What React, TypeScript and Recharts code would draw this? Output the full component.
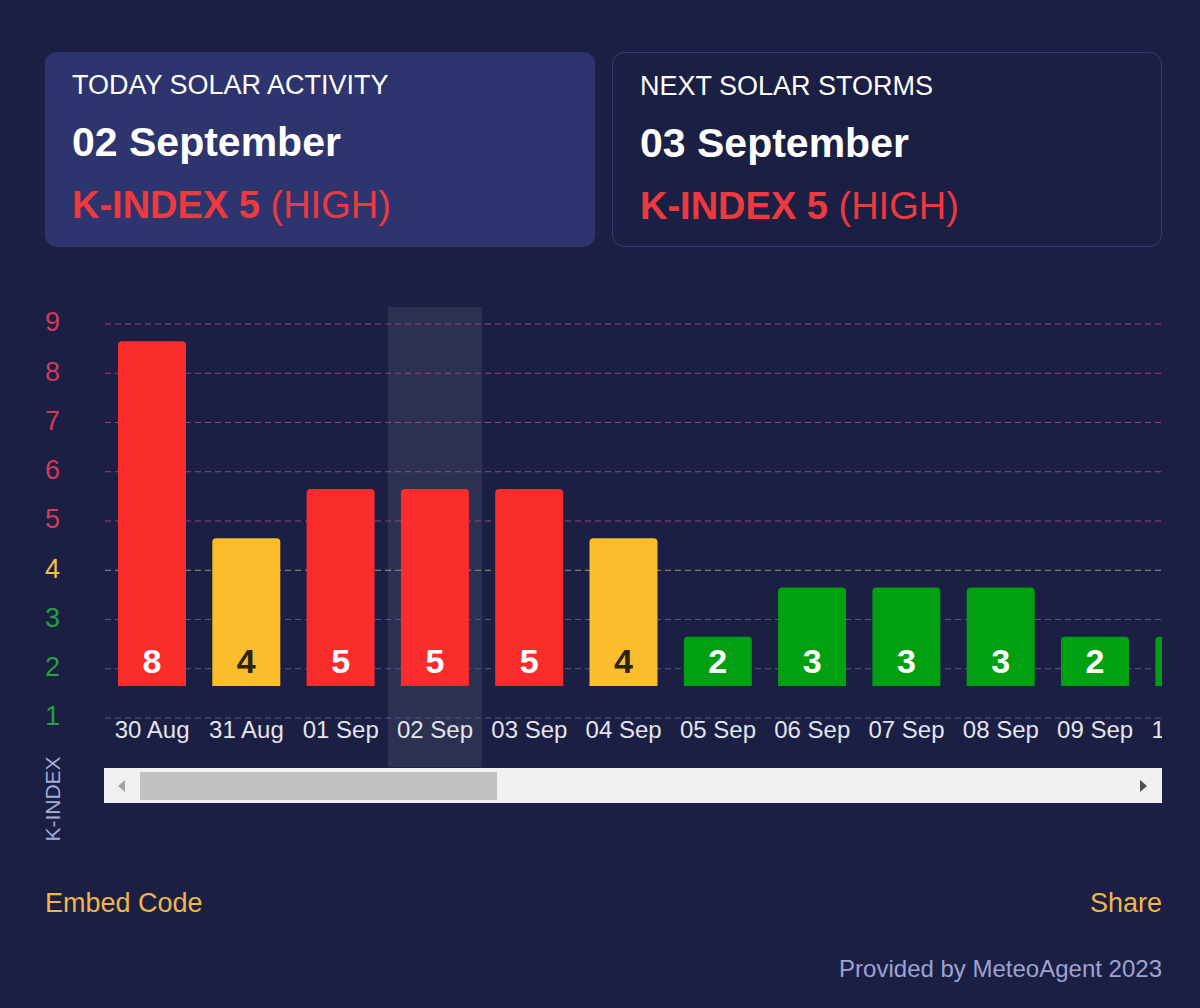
import React from 'react';
import { BarChart, Bar, XAxis, YAxis, ReferenceLine, ReferenceArea, LabelList, Cell } from 'recharts';

const days = ['30 Aug', '31 Aug', '01 Sep', '02 Sep', '03 Sep', '04 Sep', '05 Sep', '06 Sep', '07 Sep', '08 Sep', '09 Sep', '10 Sep'];
const kIndex = [8, 4, 5, 5, 5, 4, 2, 3, 3, 3, 2, 2];
const yTicks = [1, 2, 3, 4, 5, 6, 7, 8, 9];
const todayLabel = '02 Sep';

const cardTitles = ['TODAY SOLAR ACTIVITY', 'NEXT SOLAR STORMS'];
const cardDates = ['02 September', '03 September'];
const cardK = [5, 5];
const cardLevels = ['(HIGH)', '(HIGH)'];

const FONT = "Arial, 'Liberation Sans', Helvetica, sans-serif";
const BG = '#1b1f43';
const YAXIS_W = 105;

const barColor = (k: number) => (k >= 5 ? '#fb2c2c' : k === 4 ? '#fbbd2c' : '#01a013');
const tickColor = (k: number) => (k >= 5 ? '#d23a5c' : k === 4 ? '#f3c24a' : '#23a33c');
const gridColor = (k: number) => (k >= 5 ? '#97487a' : k === 4 ? '#9b988f' : '#565a86');
const labelColor = (k: number) => (k === 4 ? '#2b2412' : '#ffffff');

const data = days.map((d, i) => ({ day: d, k: kIndex[i] }));

const YTick = (props: any) => {
  const { y, payload } = props;
  return (
    <text x={YAXIS_W / 2} y={y + 7.5} textAnchor="middle" fontSize={27} fontFamily={FONT} fill={tickColor(payload.value)}>
      {payload.value}
    </text>
  );
};

const XTick = (props: any) => {
  const { x, y, payload } = props;
  return (
    <text x={x} y={y - 29} textAnchor="middle" fontSize={24} fontFamily={FONT} fill="#e4e5ee">
      {payload.value}
    </text>
  );
};

const BarValue = (props: any) => {
  const { x, y, width, height, value } = props;
  return (
    <text
      x={x + width / 2}
      y={y + height - 13}
      textAnchor="middle"
      fontSize={34}
      fontWeight="bold"
      fontFamily={FONT}
      fill={labelColor(value)}
    >
      {value}
    </text>
  );
};

const Card = ({ idx, left, filled }: { idx: number; left: number; filled: boolean }) => (
  <div
    style={{
      position: 'absolute',
      left,
      top: 52,
      width: 550,
      height: 195,
      boxSizing: 'border-box',
      borderRadius: 12,
      background: filled ? '#2e346e' : 'transparent',
      border: filled ? 'none' : '1px solid #343a72',
      fontFamily: FONT,
    }}
  >
    <div style={{ position: 'absolute', left: 27, top: 20, fontSize: 27, lineHeight: 1, color: '#ffffff', whiteSpace: 'nowrap' }}>
      {cardTitles[idx]}
    </div>
    <div style={{ position: 'absolute', left: 27, top: 70, fontSize: 41, lineHeight: 1, color: '#ffffff', fontWeight: 'bold', whiteSpace: 'nowrap' }}>
      {cardDates[idx]}
    </div>
    <div style={{ position: 'absolute', left: 27, top: 134, fontSize: 38, lineHeight: 1, color: '#ee3a3f', whiteSpace: 'nowrap' }}>
      <span style={{ fontWeight: 'bold' }}>K-INDEX {cardK[idx]}</span> {cardLevels[idx]}
    </div>
  </div>
);

export default function App() {
  return (
    <div style={{ position: 'absolute', left: 0, top: 0, width: 1200, height: 1008, background: BG, overflow: 'hidden', fontFamily: FONT }}>
      <Card idx={0} left={45} filled={true} />
      <Card idx={1} left={612} filled={false} />

      <div style={{ position: 'absolute', left: 0, top: 0, width: 1162, height: 800, overflow: 'hidden' }}>
        <BarChart width={1240} height={800} data={data} margin={{ top: 307, right: 3.4, bottom: 0, left: 0 }}>
          <XAxis
            dataKey="day"
            height={32.75}
            tickSize={0}
            tickMargin={0}
            axisLine={false}
            tickLine={false}
            interval={0}
            tick={(p: any) => <XTick {...p} />}
          />
          <YAxis
            yAxisId="k"
            width={YAXIS_W}
            type="number"
            domain={[0, 9.345]}
            ticks={yTicks}
            interval={0}
            allowDataOverflow
            axisLine={false}
            tickLine={false}
            tickSize={0}
            tickMargin={0}
            tick={(p: any) => <YTick {...p} />}
          />
          <YAxis yAxisId="b" hide type="number" domain={[-0.65, 8.695]} allowDataOverflow />
          <ReferenceArea yAxisId="k" x1={todayLabel} x2={todayLabel} fill="#ffffff" fillOpacity={0.08} stroke="none" zIndex={-60} />
          {yTicks.map((v) => (
            <ReferenceLine
              key={v}
              yAxisId="k"
              y={v}
              stroke={gridColor(v)}
              strokeDasharray="6 4"
              strokeWidth={1}
              zIndex={-40}
            />
          ))}
          <Bar yAxisId="b" dataKey={(d: any) => [1, d.k]} barSize={68} radius={[4, 4, 0, 0]} isAnimationActive={false}>
            {data.map((d) => (
              <Cell key={d.day} fill={barColor(d.k)} />
            ))}
            <LabelList dataKey="k" content={(p: any) => <BarValue {...p} />} />
          </Bar>
        </BarChart>
      </div>

      {/* scrollbar */}
      <div style={{ position: 'absolute', left: 104, top: 768, width: 1058, height: 35, background: '#f1f1f1' }}>
        <div style={{ position: 'absolute', left: 36, top: 4, width: 357, height: 28, background: '#c1c1c1' }} />
        <div style={{ position: 'absolute', left: 14, top: 12, width: 0, height: 0, borderTop: '6px solid transparent', borderBottom: '6px solid transparent', borderRight: '7px solid #a3a3a3' }} />
        <div style={{ position: 'absolute', left: 1036, top: 12, width: 0, height: 0, borderTop: '6px solid transparent', borderBottom: '6px solid transparent', borderLeft: '7px solid #505050' }} />
      </div>

      <div
        style={{
          position: 'absolute',
          left: 52,
          top: 799,
          transform: 'translate(-50%, -50%) rotate(-90deg)',
          fontSize: 21,
          color: '#a7abd9',
          whiteSpace: 'nowrap',
          lineHeight: 1,
        }}
      >
        K-INDEX
      </div>

      <div style={{ position: 'absolute', left: 45, top: 890, fontSize: 27, lineHeight: 1, color: '#f2b54a' }}>Embed Code</div>
      <div style={{ position: 'absolute', right: 38, top: 890, fontSize: 27, lineHeight: 1, color: '#f2b54a' }}>Share</div>
      <div style={{ position: 'absolute', right: 38, top: 957, fontSize: 24, lineHeight: 1, color: '#9fa3d3' }}>Provided by MeteoAgent 2023</div>
    </div>
  );
}
